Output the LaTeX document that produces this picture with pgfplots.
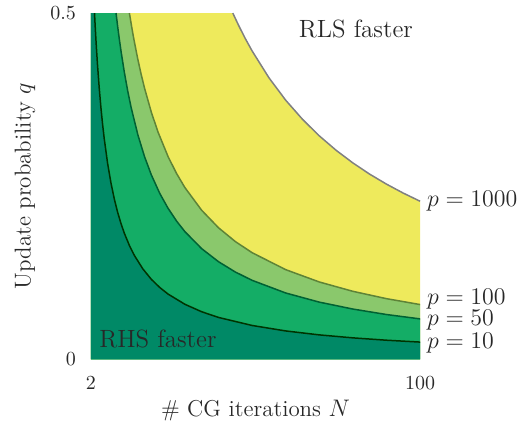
\documentclass[border=0pt]{standalone}
\usepackage{pgfplots}
\usepackage{pgfplotstable}
\pgfplotsset{compat=1.18}

\definecolor{rhsteal}{RGB}{0,137,102}
\definecolor{midgreen}{RGB}{20,173,102}
\definecolor{lightgreen}{RGB}{138,200,108}
\definecolor{paleyellow}{RGB}{238,234,92}
\definecolor{textgray}{RGB}{40,40,40}

% boundary curves q(N); first row closes the fill at the upper left corner
\pgfplotstableread{
N q
2 0.5
3.1 0.5000
3.3 0.4811
3.5 0.4635
3.75 0.4433
4 0.4248
4.5 0.3920
5 0.3640
5.5 0.3397
6 0.3184
7 0.2829
8 0.2546
9 0.2314
10 0.2121
11 0.1958
12 0.1818
13.5 0.1642
15 0.1497
17.5 0.1305
20 0.1156
22.5 0.1038
25 0.0942
30 0.0795
35 0.0687
40 0.0605
50 0.0489
60 0.0410
70 0.0353
80 0.0310
90 0.0276
100 0.0249
}\pten

\pgfplotstableread{
N q
2 0.5
9.51 0.5000
10 0.4803
10.5 0.4618
11 0.4447
12 0.4139
13 0.3871
14 0.3636
16 0.3242
18 0.2925
20 0.2665
22.5 0.2398
25 0.2180
27.5 0.1998
30 0.1844
35 0.1598
40 0.1410
45 0.1261
50 0.1141
60 0.0958
70 0.0826
80 0.0726
90 0.0647
100 0.0584
}\pfifty

\pgfplotstableread{
N q
2 0.5
13.49 0.5000
14 0.4848
14.5 0.4707
15 0.4575
16 0.4331
17 0.4112
18 0.3914
20 0.3570
22 0.3282
25 0.2927
27.5 0.2685
30 0.2480
35 0.2152
40 0.1900
45 0.1701
50 0.1540
60 0.1295
70 0.1117
80 0.0982
90 0.0876
100 0.0791
}\phundred

\pgfplotstableread{
N q
2 0.5
44.26 0.5000
46 0.4821
48 0.4630
50 0.4454
55 0.4067
60 0.3742
65 0.3466
70 0.3227
75 0.3019
80 0.2836
85 0.2674
90 0.2530
95 0.2400
100 0.2283
}\pthousand

\begin{document}
\begin{tikzpicture}
\begin{axis}[
  scale only axis,
  width=165pt,height=173.5pt,
  xmin=2,xmax=100,ymin=0,ymax=0.5,
  xtick={2,100},ytick={0,0.5},
  axis line style={draw=none},
  tick style={draw=none},
  clip=false,
  tick label style={font=\fontsize{10}{12}\selectfont,text=textgray},
  xticklabel style={yshift=-5pt},
  yticklabel style={xshift=-4pt},
  xlabel={\# CG iterations $N$},
  ylabel={Update probability $q$},
  label style={font=\fontsize{11.5}{13}\selectfont,text=textgray},
  xlabel style={at={(axis description cs:0.5,0)},anchor=center,yshift=-25.5pt},
  ylabel style={at={(axis description cs:0,0.5)},anchor=center,yshift=33pt},
]
\path (rel axis cs:-0.2758,-0.2046) rectangle (rel axis cs:1.312,1.0346);

\addplot[fill=paleyellow,draw=none] table[x=N,y=q] {\pthousand} \closedcycle;
\addplot[fill=lightgreen,draw=none] table[x=N,y=q] {\phundred} \closedcycle;
\addplot[fill=midgreen,draw=none] table[x=N,y=q] {\pfifty} \closedcycle;
\addplot[fill=rhsteal,draw=none] table[x=N,y=q] {\pten} \closedcycle;

\pgfplotsset{every axis plot/.append style={skip coords between index={0}{1},line width=0.75pt,line join=round}}
\addplot[draw=black!50] table[x=N,y=q] {\pthousand};
\addplot[draw=black!45!olive!60!green] table[x=N,y=q] {\phundred};
\addplot[draw=black!70!green!60!teal] table[x=N,y=q] {\pfifty};
\addplot[draw=black!80!green] table[x=N,y=q] {\pten};

\node[font=\fontsize{12.5}{14}\selectfont,text=textgray] at (axis cs:80.9,0.477) {RLS faster};
\node[font=\fontsize{12.5}{14}\selectfont,text=textgray] at (axis cs:22.0,0.0288) {RHS faster};
\begin{scope}[every node/.style={anchor=west,font=\fontsize{12}{14}\selectfont,text=textgray}]
\node at (axis cs:100,0.228) {$p = 1000$};
\node at (axis cs:100,0.0875) {$p = 100$};
\node at (axis cs:100,0.0562) {$p = 50$};
\node at (axis cs:100,0.0235) {$p = 10$};
\end{scope}
\end{axis}
\end{tikzpicture}
\end{document}
